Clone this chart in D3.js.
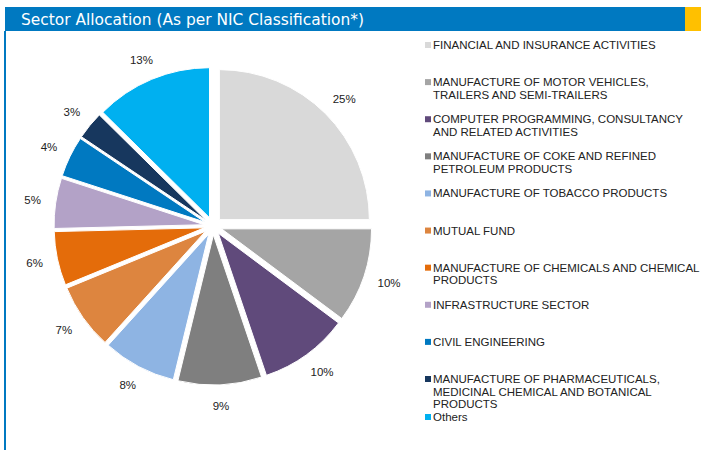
<!DOCTYPE html>
<html>
<head>
  <title>Sector Allocation</title>
  <script src="https://d3js.org/d3.v7.min.js"></script>
  <style>
    body { margin: 0; background: #fff; }
    svg text { font-family: "Liberation Sans", Arial, sans-serif; }
    .title { font-family: "DejaVu Sans", sans-serif; fill: #fff; font-size: 15.5px; }
    .pct { font-size: 11.5px; fill: #222; }
    .leg { font-size: 11.5px; fill: #222; }
  </style>
</head>
<body>
  <svg id="chart" width="701" height="450"></svg>
  <script>
    // sectors, in pie order (clockwise from 12 o'clock)
    const sectors = [
      "FINANCIAL AND INSURANCE ACTIVITIES",
      "MANUFACTURE OF MOTOR VEHICLES, TRAILERS AND SEMI-TRAILERS",
      "COMPUTER PROGRAMMING, CONSULTANCY AND RELATED ACTIVITIES",
      "MANUFACTURE OF COKE AND REFINED PETROLEUM PRODUCTS",
      "MANUFACTURE OF TOBACCO PRODUCTS",
      "MUTUAL FUND",
      "MANUFACTURE OF CHEMICALS AND CHEMICAL PRODUCTS",
      "INFRASTRUCTURE SECTOR",
      "CIVIL ENGINEERING",
      "MANUFACTURE OF PHARMACEUTICALS, MEDICINAL CHEMICAL AND BOTANICAL PRODUCTS",
      "Others"
    ];
    // legend lines as wrapped in the original
    const legendLines = [
      ["FINANCIAL AND INSURANCE ACTIVITIES"],
      ["MANUFACTURE OF MOTOR VEHICLES,", "TRAILERS AND SEMI-TRAILERS"],
      ["COMPUTER PROGRAMMING, CONSULTANCY", "AND RELATED ACTIVITIES"],
      ["MANUFACTURE OF COKE AND REFINED", "PETROLEUM PRODUCTS"],
      ["MANUFACTURE OF TOBACCO PRODUCTS"],
      ["MUTUAL FUND"],
      ["MANUFACTURE OF CHEMICALS AND CHEMICAL", "PRODUCTS"],
      ["INFRASTRUCTURE SECTOR"],
      ["CIVIL ENGINEERING"],
      ["MANUFACTURE OF PHARMACEUTICALS,", "MEDICINAL CHEMICAL AND BOTANICAL", "PRODUCTS"],
      ["Others"]
    ];
    // % of net assets
    const shares = [25.0, 10.2, 9.6, 9.0, 7.9, 7.1, 5.8, 5.4, 4.4, 3.0, 12.6];
    const colors = ["#d9d9d9", "#a5a5a5", "#604a7b", "#7f7f7f", "#8eb4e3", "#dd853f",
                    "#e46c0a", "#b3a2c7", "#0079c1", "#17375e", "#00b0f0"];

    const svg = d3.select("#chart");

    // header bar
    svg.append("rect").attr("x", 5).attr("y", 7).attr("width", 680).attr("height", 24).attr("fill", "#0079c1");
    svg.append("rect").attr("x", 685).attr("y", 7).attr("width", 16).attr("height", 24).attr("fill", "#ffc000");
    svg.append("rect").attr("x", 4).attr("y", 31).attr("width", 2).attr("height", 419).attr("fill", "#0079c1");
    svg.append("text").attr("class", "title").attr("x", 21).attr("y", 24.5)
      .attr("textLength", 343).attr("lengthAdjust", "spacingAndGlyphs")
      .text("Sector Allocation (As per NIC Classification*)");

    // pie
    const cx = 213, cy = 226, r = 150, explode = 9, labelR = 174;
    const g = svg.append("g").attr("transform", `translate(${cx},${cy})`);
    const pie = d3.pie().sort(null).value(d => d)(shares);
    const arc = d3.arc().innerRadius(0).outerRadius(r);
    const mid = d => (d.startAngle + d.endAngle) / 2;

    g.selectAll("path.slice")
      .data(pie)
      .join("path")
      .attr("class", "slice")
      .attr("fill", (d, i) => colors[i])
      .attr("stroke", "#fff")
      .attr("stroke-width", 1)
      .attr("transform", d => `translate(${Math.sin(mid(d)) * explode},${-Math.cos(mid(d)) * explode})`)
      .attr("d", arc);

    // labels sit just outside the slice, box pushed out along the mid angle
    g.selectAll("text.pct")
      .data(pie)
      .join("text")
      .attr("class", "pct")
      .attr("text-anchor", "middle")
      .attr("dy", "0.35em")
      .text(d => d3.format(".0f")(d.data) + "%")
      .each(function (d) {
        const w = this.getComputedTextLength(), h = 12, a = mid(d);
        d3.select(this)
          .attr("x", Math.sin(a) * labelR + Math.sin(a) * w / 2)
          .attr("y", -Math.cos(a) * labelR - Math.cos(a) * h / 2);
      });

    // legend
    const legY = d3.scaleLinear().domain([0, 9]).range([45, 379]);
    const leg = svg.append("g");
    legendLines.forEach((lines, i) => {
      const y = i < 10 ? legY(i) : 417;
      leg.append("rect").attr("x", 425).attr("y", y - 3).attr("width", 6).attr("height", 6).attr("fill", colors[i]);
      const t = leg.append("text").attr("class", "leg").attr("x", 433).attr("y", y);
      lines.forEach((ln, j) => {
        t.append("tspan").attr("x", 433).attr("dy", j === 0 ? "0.35em" : "12.7").text(ln);
      });
    });
  </script>
</body>
</html>
